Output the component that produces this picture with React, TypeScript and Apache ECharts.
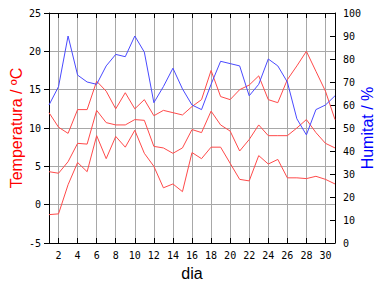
import React, { useEffect, useRef } from "react";
import * as echarts from "echarts";

const days = ["1","2","3","4","5","6","7","8","9","10","11","12","13","14","15","16","17","18","19","20","21","22","23","24","25","26","27","28","29","30","31"];
const tempMax = [12.0, 10.1, 9.3, 12.4, 12.4, 16.1, 14.8, 12.5, 14.6, 12.5, 13.7, 11.6, 12.3, 12.0, 11.7, 12.8, 13.7, 17.5, 14.1, 13.7, 15.0, 15.6, 16.8, 13.7, 13.3, 16.3, 18.1, 20.0, 17.4, 14.8, 11.1];
const tempMean = [4.3, 4.1, 5.6, 8.0, 7.9, 12.3, 10.7, 10.4, 10.4, 11.1, 11.0, 7.6, 7.4, 6.7, 7.4, 9.8, 9.4, 12.2, 10.4, 9.6, 7.0, 8.5, 10.4, 9.0, 9.0, 9.0, 10.0, 11.1, 9.4, 8.0, 7.4];
const tempMin = [-1.3, -1.2, 2.6, 5.5, 4.3, 9.0, 6.0, 8.9, 7.5, 9.7, 6.7, 5.0, 2.2, 2.7, 1.7, 6.8, 6.0, 7.5, 7.5, 5.4, 3.3, 3.1, 6.4, 5.3, 5.9, 3.5, 3.5, 3.4, 3.7, 3.3, 2.7];
const humidity = [60, 68, 90, 73, 70, 69, 77, 82, 81, 90, 83, 61, 68, 76, 67, 60, 58, 69, 79, 78, 77, 64, 69, 80, 77, 70, 54, 47, 58, 60, 64];

const tempTitle = "Temperatura / ºC";
const humTitle = "Humitat / %";
const xTitle = "dia";

export default function App() {
  const ref = useRef<HTMLDivElement>(null);
  useEffect(() => {
    if (!ref.current) return;
    const chart = echarts.init(ref.current, null, { renderer: "svg" });
    const evenIdx = (i: number) => i % 2 === 1;
    const tickFont = { fontFamily: "DejaVu Sans Mono", fontSize: 10, color: "#000" };
    const red = "#ff4a4a";
    const blue = "#4a4aff";
    chart.setOption({
      animation: false,
      backgroundColor: "#fff",
      grid: { left: 49, right: 49, top: 13, bottom: 45, containLabel: false, outerBoundsMode: "none" },
      xAxis: [
        {
          type: "category",
          data: days,
          boundaryGap: false,
          position: "bottom",
          axisLine: { show: true, onZero: false, lineStyle: { color: "#000", width: 1 } },
          axisTick: { show: true, inside: true, length: 5, interval: evenIdx, lineStyle: { color: "#000" } },
          axisLabel: { show: true, interval: evenIdx, margin: 7, ...tickFont },
          splitLine: { show: true, interval: evenIdx, lineStyle: { color: "#a8a8a8", width: 1 } },
        },
        {
          type: "category",
          data: days,
          boundaryGap: false,
          position: "top",
          axisLine: { show: true, onZero: false, lineStyle: { color: "#000", width: 1 } },
          axisTick: { show: true, inside: true, length: 5, interval: evenIdx, lineStyle: { color: "#000" } },
          axisLabel: { show: false },
          splitLine: { show: false },
        },
      ],
      yAxis: [
        {
          type: "value",
          min: -5,
          max: 25,
          interval: 5,
          position: "left",
          axisLine: { show: true, onZero: false, lineStyle: { color: "#000", width: 1 } },
          axisTick: { show: true, inside: false, length: 5, lineStyle: { color: "#000" } },
          axisLabel: { margin: 8, ...tickFont },
          splitLine: { show: true, lineStyle: { color: "#a8a8a8", width: 1 } },
        },
        {
          type: "value",
          min: 0,
          max: 100,
          interval: 10,
          position: "right",
          axisLine: { show: true, onZero: false, lineStyle: { color: "#000", width: 1 } },
          axisTick: { show: true, inside: true, length: 5, lineStyle: { color: "#000" } },
          axisLabel: { margin: 8, ...tickFont },
          splitLine: { show: false },
        },
      ],
      series: [
        { type: "line", data: tempMax, xAxisIndex: 0, yAxisIndex: 0, symbol: "none", lineStyle: { color: red, width: 1 }, itemStyle: { color: red } },
        { type: "line", data: tempMean, xAxisIndex: 0, yAxisIndex: 0, symbol: "none", lineStyle: { color: red, width: 1 }, itemStyle: { color: red } },
        { type: "line", data: tempMin, xAxisIndex: 0, yAxisIndex: 0, symbol: "none", lineStyle: { color: red, width: 1 }, itemStyle: { color: red } },
        { type: "line", data: humidity, xAxisIndex: 0, yAxisIndex: 1, symbol: "none", lineStyle: { color: blue, width: 1 }, itemStyle: { color: blue } },
      ],
      graphic: [
        {
          type: "text",
          x: 16,
          y: 128,
          rotation: Math.PI / 2,
          style: { text: tempTitle, fill: "#ff0000", font: "16px 'Liberation Sans', Arial, sans-serif", textAlign: "center", textVerticalAlign: "middle" },
        },
        {
          type: "text",
          x: 367,
          y: 128,
          rotation: Math.PI / 2,
          style: { text: humTitle, fill: "#0000ff", font: "16px 'Liberation Sans', Arial, sans-serif", textAlign: "center", textVerticalAlign: "middle" },
        },
        {
          type: "text",
          x: 192,
          y: 273,
          style: { text: xTitle, fill: "#000", font: "16px 'Liberation Sans', Arial, sans-serif", textAlign: "center", textVerticalAlign: "middle" },
        },
      ],
    });
    return () => chart.dispose();
  }, []);
  return <div ref={ref} style={{ position: "absolute", left: 0, top: 0, width: 384, height: 288 }} />;
}
